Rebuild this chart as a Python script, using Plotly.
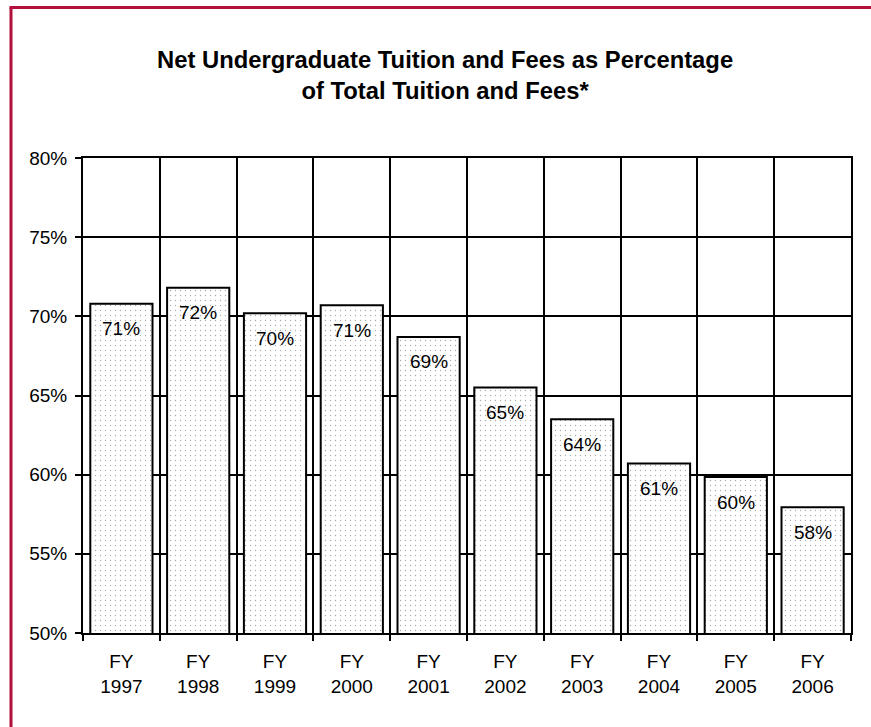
import plotly.graph_objects as go

categories = ["FY<br>1997", "FY<br>1998", "FY<br>1999", "FY<br>2000", "FY<br>2001",
              "FY<br>2002", "FY<br>2003", "FY<br>2004", "FY<br>2005", "FY<br>2006"]
values = [70.8, 71.8, 70.2, 70.7, 68.7, 65.5, 63.5, 60.7, 59.85, 57.95]
labels = ["71%", "72%", "70%", "71%", "69%", "65%", "64%", "61%", "60%", "58%"]
y_ticks = [50, 55, 60, 65, 70, 75, 80]
y_tick_text = ["50%", "55%", "60%", "65%", "70%", "75%", "80%"]

FONT = "Liberation Sans, Arial, Helvetica, sans-serif"

fig = go.Figure()
fig.add_trace(go.Bar(
    x=categories, y=values, base=0,
    marker=dict(color="white",
                line=dict(color="black", width=2),
                pattern=dict(shape=".", size=5, solidity=0.06,
                             fgcolor="#555555", bgcolor="white")),
    hoverinfo="skip",
))

for c, v, t in zip(categories, values, labels):
    fig.add_annotation(x=c, y=v, text=t, showarrow=False, yshift=-25,
                       font=dict(size=19, color="black", family=FONT))

W, H = 871, 727
L, R, T, B = 83, 20, 158, 94
pw, ph = W - L - R, H - T - B

def px_x(px):
    return (px - L) / pw

def px_y(py):
    return (H - B - py) / ph

border = "#B0103A"
fig.add_shape(type="line", xref="paper", yref="paper",
              x0=px_x(11), x1=px_x(11), y0=px_y(7.5), y1=px_y(760),
              line=dict(color=border, width=3))
fig.add_shape(type="line", xref="paper", yref="paper",
              x0=px_x(9.5), x1=px_x(900), y0=px_y(7.5), y1=px_y(7.5),
              line=dict(color=border, width=3))

fig.update_layout(
    width=W, height=H,
    margin=dict(l=L, r=R, t=T, b=B),
    paper_bgcolor="white", plot_bgcolor="white",
    showlegend=False,
    bargap=0.19,
    font=dict(family=FONT, size=19, color="black"),
    title=dict(text="<b>Net Undergraduate Tuition and Fees as Percentage<br>of Total Tuition and Fees*</b>",
               x=0.511, xanchor="center", xref="container",
               y=1 - 68 / H, yanchor="middle", yref="container",
               font=dict(family=FONT, size=23.8, color="black")),
    xaxis=dict(type="category", tickson="boundaries", ticks="outside", ticklen=6,
               tickwidth=2, tickcolor="black",
               showgrid=True, gridcolor="black", gridwidth=2,
               showline=True, linecolor="black", linewidth=2, mirror=True,
               tickfont=dict(size=19, family=FONT, color="black"),
               ticklabelstandoff=10,
               fixedrange=True),
    yaxis=dict(range=[50, 80], tickvals=y_ticks, ticktext=y_tick_text,
               ticks="outside", ticklen=6, tickwidth=2, tickcolor="black",
               showgrid=True, gridcolor="black", gridwidth=2,
               showline=True, linecolor="black", linewidth=2, mirror=True,
               zeroline=False,
               tickfont=dict(size=19, family=FONT, color="black"),
               ticklabelstandoff=4,
               fixedrange=True),
)

fig.write_html("out.html")
